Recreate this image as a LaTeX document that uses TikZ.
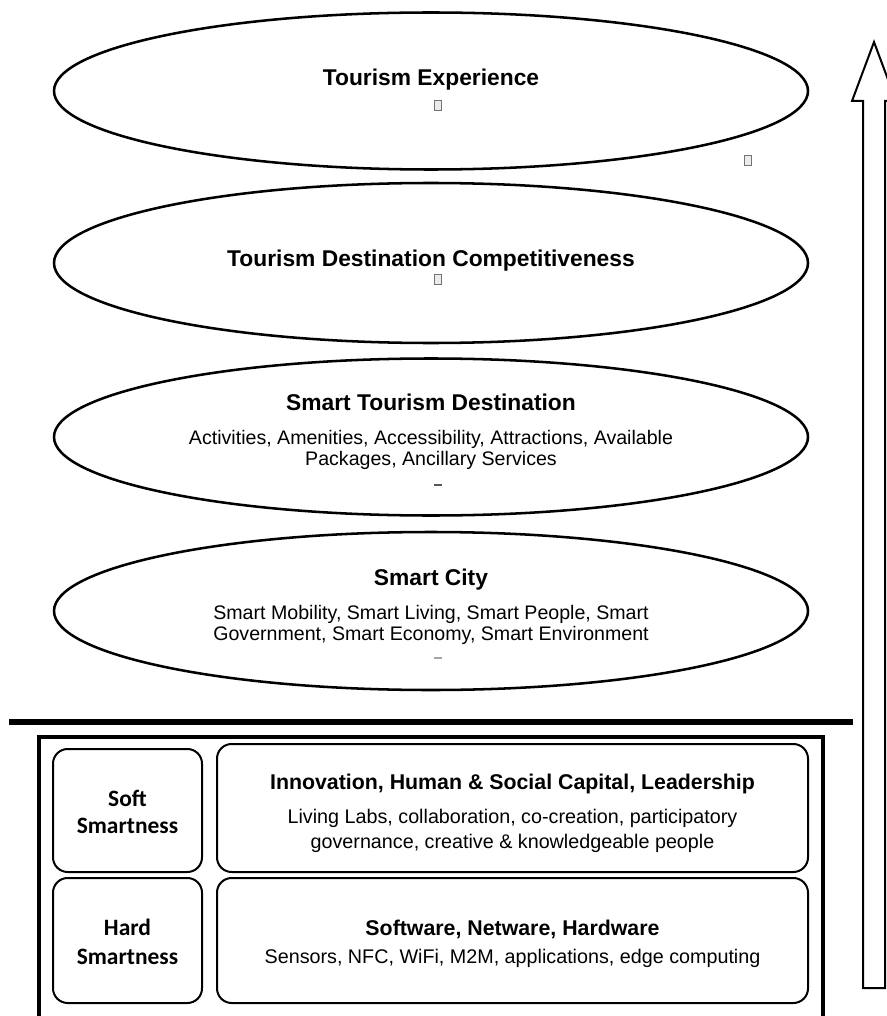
\documentclass[tikz,border=0pt]{standalone}
\usepackage{fontspec}
\setmainfont{Liberation Sans}
\newfontfamily\sidefont{Carlito}
\usetikzlibrary{shapes.geometric}

\tikzset{
  layer/.style={draw, ellipse, line width=1.9pt, minimum width=565.5pt, inner sep=0pt},
  ltitle/.style={anchor=base, inner sep=0pt, font=\bfseries\fontsize{17.1}{20}\selectfont},
  ltext/.style={anchor=base, inner sep=0pt, font=\fontsize{14.7}{16}\selectfont},
  btitle/.style={anchor=base, inner sep=0pt, font=\bfseries\fontsize{16}{19}\selectfont},
  btext/.style={anchor=base, inner sep=0pt, font=\fontsize{14.8}{18}\selectfont},
  side/.style={anchor=base, inner sep=0pt, font=\sidefont\bfseries\fontsize{17.6}{20}\selectfont},
  smartbox/.style={draw, rectangle, rounded corners=11pt, line width=1.5pt, inner sep=0pt},
  tofu/.style={draw=black!55, fill=black!8, line width=0.5pt, minimum width=5pt, minimum height=7.5pt, inner sep=0pt},
}

\begin{document}
\begin{tikzpicture}[x=0.75pt, y=-0.75pt]
  \useasboundingbox (0,0) rectangle (886,1016);

  % Layers
  \node[layer, minimum height=117.75pt] (exp) at (431,91) {};
  \node[layer, minimum height=120pt] (comp) at (431,263) {};
  \node[layer, minimum height=117.75pt] (std) at (431,437) {};
  \node[layer, minimum height=118.5pt] (city) at (431,611) {};

  % Layer texts
  \node[ltitle] (exp-t) at (431,86) {Tourism Experience};
  \node[tofu] (exp-g) at (438,105) {};
  \node[tofu] (exp-g2) at (748,160) {};

  \node[ltitle] (comp-t) at (431,266) {Tourism Destination Competitiveness};
  \node[tofu] (comp-g) at (438,279) {};

  \node[ltitle] (std-t) at (431,410) {Smart Tourism Destination};
  \node[ltext] (std-a) at (431,444) {Activities, Amenities, Accessibility, Attractions, Available};
  \node[ltext] (std-b) at (431,465) {Packages, Ancillary Services};
  \draw[black!65, line width=0.8pt] (434,485) -- (442,485);

  \node[ltitle] (city-t) at (431,585) {Smart City};
  \node[ltext] (city-a) at (431,619) {Smart Mobility, Smart Living, Smart People, Smart};
  \node[ltext] (city-b) at (431,640) {Government, Smart Economy, Smart Environment};
  \draw[black!35, line width=0.8pt] (434,658) -- (442,658);

  % Separator and frame
  \draw[line width=5pt] (9,722) -- (853,722);
  \draw[line width=2.5pt] (39,737) rectangle (823,1024);

  % Smartness boxes
  \node[smartbox, minimum width=111.75pt, minimum height=92.25pt] (soft) at (127.5,810.5) {};
  \node[smartbox, minimum width=111.75pt, minimum height=93.75pt] (hard) at (127.5,940.5) {};
  \node[smartbox, minimum width=443.25pt, minimum height=96pt] (human) at (512.5,808) {};
  \node[smartbox, minimum width=443.25pt, minimum height=93.75pt] (tech) at (512.5,940.5) {};

  \node[side] (soft-a) at (127.5,806) {Soft};
  \node[side] (soft-b) at (127.5,833) {Smartness};
  \node[side] (hard-a) at (127.5,935) {Hard};
  \node[side] (hard-b) at (127.5,964) {Smartness};

  \node[btitle] (human-t) at (512.5,789) {Innovation, Human \& Social Capital, Leadership};
  \node[btext] (human-a) at (512.5,823) {Living Labs, collaboration, co-creation, participatory};
  \node[btext] (human-b) at (512.5,848) {governance, creative \& knowledgeable people};

  \node[btitle] (tech-t) at (512.5,935) {Software, Netware, Hardware};
  \node[btext] (tech-a) at (512.5,963) {Sensors, NFC, WiFi, M2M, applications, edge computing};

  % Upward arrow
  \draw[line width=1.5pt, line join=miter] (863,988) -- (863,101) -- (852,101) -- (874,42)
    -- (896,101) -- (885,101) -- (885,988) -- cycle;
\end{tikzpicture}
\end{document}
